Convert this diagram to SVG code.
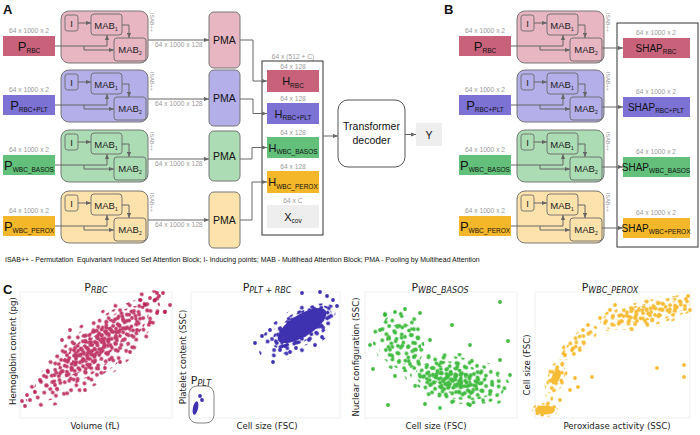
<svg xmlns="http://www.w3.org/2000/svg" xmlns:xlink="http://www.w3.org/1999/xlink" width="700" height="435" viewBox="0 0 700 435">
<style>
text{font-family:"Liberation Sans",Arial,sans-serif;fill:#111}
.box{stroke:#777;stroke-width:1}
.in{fill:none;stroke:#6b6b6b;stroke-width:0.9}
.c{fill:none;stroke:#666;stroke-width:1;marker-end:url(#ah)}
.g{font-size:6.7px;fill:#9a9a9a}
.gm{text-anchor:middle}
.mab{font-size:9.5px;text-anchor:middle;fill:#222}
.s{font-size:5px}
.pl{font-size:13px;text-anchor:middle}
.ps{font-size:6.5px}
.lbl{font-size:13px;font-weight:bold}
.pma{font-size:10.5px;text-anchor:middle}
.isab{font-size:5.5px;fill:#9a9a9a}
.hl{font-size:11px;text-anchor:middle}
.shap{font-size:10px;text-anchor:middle}
.ax{font-family:"DejaVu Sans",sans-serif;font-size:8.6px;fill:#222;text-anchor:middle}
.tt{font-family:"DejaVu Sans",sans-serif;font-size:11px;fill:#222;text-anchor:middle}
.ts{font-size:8px;font-style:italic}
.frame{fill:none;stroke:#ececec;stroke-width:0.8}
.pk1{fill:#c8627b}.pk2{fill:#e8b5c3}
.pu1{fill:#7b72d4}.pu2{fill:#b4aee9}
.gr1{fill:#62c07a}.gr2{fill:#abdcb3}
.ye1{fill:#f5b72a}.ye2{fill:#fde3ab}
.gy{fill:#eeeeee}
</style>
<defs>
<marker id="ah" viewBox="0 0 6 6" refX="6" refY="3" markerWidth="5" markerHeight="5" orient="auto"><path d="M0,0.5 L6,3 L0,5.5z" fill="#666"/></marker>
<g id="isabT">
<rect class="in" x="65" y="15" width="13" height="16" rx="2.5"/>
<text class="mab" x="71.5" y="27">I</text>
<rect class="in" x="91" y="14" width="31" height="21" rx="3"/>
<text class="mab" x="106" y="28.5">MAB<tspan class="s" dy="2">1</tspan></text>
<rect class="in" x="114" y="38" width="32" height="23" rx="3"/>
<text class="mab" x="130" y="53">MAB<tspan class="s" dy="2">2</tspan></text>
<text class="isab" transform="translate(149.5,13) rotate(90)">ISAB++</text>
</g>
<pattern id="pa" width="23" height="21" patternUnits="userSpaceOnUse" patternTransform="rotate(11)">
<g fill="#fff"><circle cx="3" cy="3" r="1.9"/><circle cx="10" cy="2.5" r="1.9"/><circle cx="16" cy="6" r="1.9"/><circle cx="20" cy="13" r="1.9"/><circle cx="12" cy="11" r="1.9"/><circle cx="5" cy="13" r="1.9"/><circle cx="17" cy="18.5" r="1.9"/><circle cx="8" cy="18.5" r="1.9"/></g>
</pattern>
<pattern id="pb" width="17" height="19" patternUnits="userSpaceOnUse" patternTransform="rotate(33)">
<g fill="#fff"><circle cx="3" cy="3" r="1.9"/><circle cx="11" cy="4.5" r="1.9"/><circle cx="7" cy="10" r="1.9"/><circle cx="14.5" cy="12" r="1.9"/><circle cx="3" cy="15.5" r="1.9"/><circle cx="10" cy="16.5" r="1.9"/></g>
</pattern>
<pattern id="pc" width="9" height="8" patternUnits="userSpaceOnUse" patternTransform="rotate(-21)">
<g fill="#fff"><circle cx="2.5" cy="2.5" r="1.9"/><circle cx="6.5" cy="5.5" r="1.9"/></g>
</pattern>
<pattern id="pe" width="7" height="7" patternUnits="userSpaceOnUse" patternTransform="rotate(40)">
<g fill="#fff"><circle cx="2" cy="2" r="1.9"/><circle cx="5" cy="5.2" r="1.9"/></g>
</pattern>
<pattern id="pd" width="31" height="29" patternUnits="userSpaceOnUse" patternTransform="rotate(-15)">
<g fill="#fff"><circle cx="4" cy="5" r="1.9"/><circle cx="18" cy="3" r="1.9"/><circle cx="27" cy="14" r="1.9"/><circle cx="12" cy="17" r="1.9"/><circle cx="22" cy="25" r="1.9"/><circle cx="6" cy="25" r="1.9"/></g>
</pattern>
<mask id="m1" maskUnits="userSpaceOnUse" x="0" y="280" width="700" height="155">
<g transform="rotate(-38 97 349)">
<ellipse cx="97" cy="349" rx="88" ry="29" fill="url(#pd)"/>
<ellipse cx="97" cy="349" rx="78" ry="24" fill="url(#pa)"/>
<ellipse cx="98" cy="348" rx="64" ry="19" fill="url(#pb)"/>
<ellipse cx="100" cy="346" rx="50" ry="14" fill="url(#pc)"/>
<ellipse cx="100" cy="346" rx="32" ry="9" fill="url(#pe)"/>
</g>
</mask>
<mask id="m2" maskUnits="userSpaceOnUse" x="0" y="280" width="700" height="155">
<g transform="rotate(-32 300 328)">
<ellipse cx="298" cy="330" rx="46" ry="22" fill="url(#pd)"/>
<ellipse cx="300" cy="329" rx="40" ry="17" fill="url(#pa)"/>
<ellipse cx="302" cy="328" rx="34" ry="14" fill="url(#pc)"/>
<ellipse cx="303" cy="327" rx="28" ry="11" fill="#fff"/>
</g>
<ellipse cx="195.5" cy="408" rx="2.6" ry="7" fill="#fff" transform="rotate(12 195.5 408)"/>
</mask>
<mask id="m3" maskUnits="userSpaceOnUse" x="0" y="280" width="700" height="155">
<g transform="rotate(12 457 380)">
<ellipse cx="457" cy="380" rx="54" ry="27" fill="url(#pd)"/>
<ellipse cx="457" cy="380" rx="48" ry="23" fill="url(#pa)"/>
<ellipse cx="455" cy="381" rx="40" ry="18" fill="url(#pb)"/>
<ellipse cx="453" cy="381" rx="31" ry="13" fill="url(#pc)"/>
<ellipse cx="452" cy="381" rx="20" ry="8" fill="url(#pe)"/>
</g>
<g transform="rotate(-20 400 340)">
<ellipse cx="400" cy="340" rx="27" ry="33" fill="url(#pd)"/>
<ellipse cx="400" cy="342" rx="23" ry="28" fill="url(#pa)"/>
<ellipse cx="402" cy="345" rx="17" ry="21" fill="url(#pb)"/>
</g>
</mask>
<mask id="m4" maskUnits="userSpaceOnUse" x="0" y="280" width="700" height="155">
<ellipse cx="545" cy="410" rx="13" ry="7" fill="url(#pc)"/>
<ellipse cx="545" cy="410" rx="10" ry="4.5" fill="#fff"/>
<ellipse cx="549" cy="398" rx="4" ry="6" fill="url(#pa)"/>
<g transform="rotate(25 556 377)">
<ellipse cx="556" cy="377" rx="10" ry="17" fill="url(#pa)"/>
<ellipse cx="556" cy="377" rx="8" ry="14" fill="url(#pc)"/>
<ellipse cx="556" cy="377" rx="4" ry="8" fill="#fff"/>
</g>
<ellipse cx="578" cy="343" rx="25" ry="9" fill="url(#pa)" transform="rotate(-40 578 343)"/>
<ellipse cx="578" cy="343" rx="20" ry="6" fill="url(#pb)" transform="rotate(-40 578 343)"/>
<g transform="rotate(-12 645 314)">
<ellipse cx="645" cy="314" rx="50" ry="15" fill="url(#pd)"/>
<ellipse cx="645" cy="314" rx="46" ry="13" fill="url(#pa)"/>
<ellipse cx="645" cy="314" rx="40" ry="10" fill="url(#pb)"/>
<ellipse cx="648" cy="313" rx="32" ry="7.5" fill="url(#pc)"/>
</g>
<ellipse cx="680" cy="303" rx="10" ry="8" fill="url(#pb)"/>
</mask>
</defs>

<rect width="700" height="435" fill="#fff"/>

<!-- panel labels -->
<text class="lbl" x="3" y="14">A</text>
<text class="lbl" x="444" y="14">B</text>
<text class="lbl" x="3" y="294">C</text>

<!-- ===== Panel A nodes ===== -->
<g id="a-p-rbc"><text class="g gm" x="29" y="33">64 x 1000 x 2</text><rect class="pk1" x="3" y="36" width="52" height="20"/><text class="pl" x="29" y="50.6">P<tspan class="ps" dy="2.5">RBC</tspan></text></g>
<g id="a-p-rbcplt"><text class="g gm" x="29" y="92">64 x 1000 x 2</text><rect class="pu1" x="3" y="95" width="52" height="20"/><text class="pl" x="29" y="109.6">P<tspan class="ps" dy="2.5">RBC+PLT</tspan></text></g>
<g id="a-p-basos"><text class="g gm" x="29" y="152">64 x 1000 x 2</text><rect class="gr1" x="3" y="155" width="52" height="20"/><text class="pl" x="29" y="169.6">P<tspan class="ps" dy="2.5">WBC_BASOS</tspan></text></g>
<g id="a-p-perox"><text class="g gm" x="29" y="213">64 x 1000 x 2</text><rect class="ye1" x="3" y="216" width="52" height="20"/><text class="pl" x="29" y="230.6">P<tspan class="ps" dy="2.5">WBC_PEROX</tspan></text></g>

<g id="a-isab-rbc"><rect class="box pk2" x="61" y="11" width="87" height="52" rx="8"/><use href="#isabT"/></g>
<g id="a-isab-rbcplt"><rect class="box pu2" x="61" y="70" width="87" height="52" rx="8"/><use href="#isabT" transform="translate(0,59)"/></g>
<g id="a-isab-basos"><rect class="box gr2" x="61" y="130" width="87" height="52" rx="8"/><use href="#isabT" transform="translate(0,119)"/></g>
<g id="a-isab-perox"><rect class="box ye2" x="61" y="191" width="87" height="52" rx="8"/><use href="#isabT" transform="translate(0,180)"/></g>

<g id="a-pma-rbc"><rect class="box pk2" x="209" y="12" width="31" height="56" rx="5"/><text class="pma" x="224.5" y="44">PMA</text></g>
<g id="a-pma-rbcplt"><rect class="box pu2" x="209" y="70" width="31" height="56" rx="5"/><text class="pma" x="224.5" y="102">PMA</text></g>
<g id="a-pma-basos"><rect class="box gr2" x="209" y="131" width="31" height="50" rx="5"/><text class="pma" x="224.5" y="160">PMA</text></g>
<g id="a-pma-perox"><rect class="box ye2" x="209" y="192" width="31" height="56" rx="5"/><text class="pma" x="224.5" y="224">PMA</text></g>

<g id="a-concat">
<text class="g gm" x="293" y="59">64 x (512 + C)</text>
<rect x="262" y="61" width="61" height="174" fill="#fff" stroke="#333" stroke-width="1"/>
</g>
<g id="a-h-rbc"><text class="g gm" x="293" y="68.5">64 x 128</text><rect class="pk1" x="267" y="70" width="52" height="22"/><text class="hl" x="293" y="85">H<tspan class="ps" dy="2.5">RBC</tspan></text></g>
<g id="a-h-rbcplt"><text class="g gm" x="293" y="101">64 x 128</text><rect class="pu1" x="267" y="103" width="52" height="21"/><text class="hl" x="293" y="117.5">H<tspan class="ps" dy="2.5">RBC+PLT</tspan></text></g>
<g id="a-h-basos"><text class="g gm" x="293" y="134.5">64 x 128</text><rect class="gr1" x="267" y="137" width="52" height="21"/><text class="hl" x="293" y="151.5">H<tspan class="ps" dy="2.5">WBC_BASOS</tspan></text></g>
<g id="a-h-perox"><text class="g gm" x="293" y="168.5">64 x 128</text><rect class="ye1" x="267" y="171" width="52" height="22"/><text class="hl" x="293" y="186">H<tspan class="ps" dy="2.5">WBC_PEROX</tspan></text></g>
<g id="a-xcov"><text class="g gm" x="293" y="203">64 x C</text><rect class="gy" x="267" y="205" width="52" height="23"/><text class="hl" x="293" y="220.5">X<tspan class="ps" dy="2.5">cov</tspan></text></g>

<g id="a-transformer"><rect x="338" y="100" width="67" height="67" rx="10" fill="#fff" stroke="#555" stroke-width="1"/><text class="pma" x="371.5" y="130" font-size="11">Transformer</text><text class="pma" x="371.5" y="144" font-size="11">decoder</text></g>
<g id="a-y"><rect class="gy" x="416" y="123" width="26" height="23"/><text class="pma" x="429" y="138.5" font-size="11">Y</text></g>

<!-- ===== Panel B nodes ===== -->
<g id="b-p-rbc"><text class="g gm" x="485" y="33">64 x 1000 x 2</text><rect class="pk1" x="459" y="36" width="52" height="20"/><text class="pl" x="485" y="50.6">P<tspan class="ps" dy="2.5">RBC</tspan></text></g>
<g id="b-p-rbcplt"><text class="g gm" x="485" y="92">64 x 1000 x 2</text><rect class="pu1" x="459" y="95" width="52" height="20"/><text class="pl" x="485" y="109.6">P<tspan class="ps" dy="2.5">RBC+PLT</tspan></text></g>
<g id="b-p-basos"><text class="g gm" x="485" y="152">64 x 1000 x 2</text><rect class="gr1" x="459" y="155" width="52" height="20"/><text class="pl" x="485" y="169.6">P<tspan class="ps" dy="2.5">WBC_BASOS</tspan></text></g>
<g id="b-p-perox"><text class="g gm" x="485" y="213">64 x 1000 x 2</text><rect class="ye1" x="459" y="216" width="52" height="20"/><text class="pl" x="485" y="230.6">P<tspan class="ps" dy="2.5">WBC_PEROX</tspan></text></g>

<g id="b-isab-rbc"><rect class="box pk2" x="517" y="11" width="87" height="52" rx="8"/><use href="#isabT" transform="translate(456,0)"/></g>
<g id="b-isab-rbcplt"><rect class="box pu2" x="517" y="70" width="87" height="52" rx="8"/><use href="#isabT" transform="translate(456,59)"/></g>
<g id="b-isab-basos"><rect class="box gr2" x="517" y="130" width="87" height="52" rx="8"/><use href="#isabT" transform="translate(456,119)"/></g>
<g id="b-isab-perox"><rect class="box ye2" x="517" y="191" width="87" height="52" rx="8"/><use href="#isabT" transform="translate(456,180)"/></g>

<g id="b-container"><rect x="617" y="23" width="81" height="224" fill="none" stroke="#333" stroke-width="1"/></g>
<g id="b-shap-rbc"><text class="g gm" x="656" y="35">64 x 1000 x 2</text><rect class="pk1" x="623" y="38" width="67" height="20"/><text class="shap" x="656" y="51.5">SHAP<tspan class="ps" dy="2.5">RBC</tspan></text></g>
<g id="b-shap-rbcplt"><text class="g gm" x="656" y="94">64 x 1000 x 2</text><rect class="pu1" x="623" y="97" width="67" height="20"/><text class="shap" x="656" y="110.5">SHAP<tspan class="ps" dy="2.5">RBC+PLT</tspan></text></g>
<g id="b-shap-basos"><text class="g gm" x="656" y="154">64 x 1000 x 2</text><rect class="gr1" x="623" y="157" width="67" height="20"/><text class="shap" x="656" y="170.5">SHAP<tspan class="ps" dy="2.5">WBC_BASOS</tspan></text></g>
<g id="b-shap-perox"><text class="g gm" x="656" y="215">64 x 1000 x 2</text><rect class="ye1" x="623" y="218" width="67" height="20"/><text class="shap" x="656" y="231.5">SHAP<tspan class="ps" dy="2.5">WBC+PEROX</tspan></text></g>

<!-- ===== Connectors ===== -->
<g id="connectors">
<path class="c" d="M55,46H107V35"/><path class="c" d="M84,46V50H114"/><path class="c" d="M78,23H91"/><path class="c" d="M122,25H129V38"/><path class="c" d="M148,40H209"/>
<path class="c" d="M55,105H107V94"/><path class="c" d="M84,105V109H114"/><path class="c" d="M78,82H91"/><path class="c" d="M122,84H129V97"/><path class="c" d="M148,99H209"/>
<path class="c" d="M55,165H107V154"/><path class="c" d="M84,165V169H114"/><path class="c" d="M78,142H91"/><path class="c" d="M122,144H129V157"/><path class="c" d="M148,159H209"/>
<path class="c" d="M55,226H107V215"/><path class="c" d="M84,226V230H114"/><path class="c" d="M78,203H91"/><path class="c" d="M122,205H129V218"/><path class="c" d="M148,220H209"/>
<path class="c" d="M240,40H253V81H267"/>
<path class="c" d="M240,99H253V113.5H267"/>
<path class="c" d="M240,159H252V147.5H267"/>
<path class="c" d="M240,220H252V182H267"/>
<path class="c" d="M323,136H338"/>
<path class="c" d="M405,134.5H416"/>
<path class="c" d="M511,46H563V35"/><path class="c" d="M540,46V50H570"/><path class="c" d="M534,23H547"/><path class="c" d="M578,25H585V38"/><path class="c" d="M602,48H623"/>
<path class="c" d="M511,105H563V94"/><path class="c" d="M540,105V109H570"/><path class="c" d="M534,82H547"/><path class="c" d="M578,84H585V97"/><path class="c" d="M602,107H623"/>
<path class="c" d="M511,165H563V154"/><path class="c" d="M540,165V169H570"/><path class="c" d="M534,142H547"/><path class="c" d="M578,144H585V157"/><path class="c" d="M602,167H623"/>
<path class="c" d="M511,226H563V215"/><path class="c" d="M540,226V230H570"/><path class="c" d="M534,203H547"/><path class="c" d="M578,205H585V218"/><path class="c" d="M602,228H623"/>
</g>
<g id="edge-labels">
<text class="g" x="155" y="47">64 x 1000 x 128</text>
<text class="g" x="155" y="106">64 x 1000 x 128</text>
<text class="g" x="155" y="166">64 x 1000 x 128</text>
<text class="g" x="155" y="227">64 x 1000 x 128</text>
</g>

<text x="5" y="262" font-size="7" fill="#333" xml:space="preserve">ISAB++ - Permutation  Equivariant Induced Set Attention Block; I- Inducing points; MAB - Multihead Attention Block; PMA - Pooling by Multihead Attention</text>

<!-- ===== Panel C ===== -->
<g id="plot-rbc">
<rect class="frame" x="20" y="292" width="152" height="126"/>
<text class="tt" x="96" y="291">P<tspan class="ts" dy="2">RBC</tspan></text>
<text class="ax" x="95" y="429">Volume (fL)</text>
<text class="ax" transform="translate(16,351) rotate(-90)">Hemoglobin content (pg)</text>
<rect x="0" y="280" width="700" height="155" fill="#b5174f" fill-opacity="0.85" mask="url(#m1)"/>
<g fill="#b5174f" fill-opacity="0.85">
<circle cx="25" cy="406" r="1.9"/><circle cx="30" cy="400" r="1.9"/><circle cx="27" cy="395" r="1.9"/><circle cx="35" cy="392" r="1.9"/><circle cx="22" cy="401" r="1.9"/><circle cx="170" cy="305" r="1.9"/><circle cx="163" cy="293" r="1.9"/><circle cx="159" cy="296" r="1.9"/><circle cx="155" cy="300" r="1.9"/><circle cx="157" cy="293" r="1.9"/><circle cx="150" cy="298" r="1.9"/><circle cx="145" cy="305" r="1.9"/><circle cx="140" cy="300" r="1.9"/><circle cx="165" cy="312" r="1.9"/><circle cx="157" cy="313" r="1.9"/><circle cx="40" cy="380" r="1.9"/><circle cx="48" cy="372" r="1.9"/><circle cx="55" cy="385" r="1.9"/><circle cx="120" cy="362" r="1.9"/><circle cx="130" cy="352" r="1.9"/><circle cx="85" cy="390" r="1.9"/><circle cx="70" cy="330" r="1.9"/><circle cx="62" cy="340" r="1.9"/><circle cx="137" cy="330" r="1.9"/><circle cx="150" cy="322" r="1.9"/><circle cx="105" cy="368" r="1.9"/>
</g>
</g>

<g id="plot-plt-rbc">
<rect class="frame" x="191" y="292" width="149" height="126"/>
<text class="tt" x="267" y="291">P<tspan class="ts" dy="2">PLT + RBC</tspan></text>
<text class="ax" x="267" y="429">Cell size (FSC)</text>
<text class="ax" transform="translate(186,357) rotate(-90)">Platelet content (SSC)</text>
<rect x="0" y="280" width="700" height="155" fill="#2a1ca8" fill-opacity="0.9" mask="url(#m2)"/>
<g fill="#2a1ca8" fill-opacity="0.9">
<circle cx="255" cy="343" r="1.9"/><circle cx="273" cy="362" r="1.9"/><circle cx="262" cy="336" r="1.9"/><circle cx="270" cy="330" r="1.9"/><circle cx="285" cy="346" r="1.9"/><circle cx="302" cy="293" r="1.9"/><circle cx="320" cy="292" r="1.9"/><circle cx="327" cy="296" r="1.9"/><circle cx="333" cy="300" r="1.9"/><circle cx="337" cy="306" r="1.9"/><circle cx="322" cy="337" r="1.9"/><circle cx="315" cy="345" r="1.9"/><circle cx="290" cy="352" r="1.9"/><circle cx="280" cy="350" r="1.9"/><circle cx="296" cy="348" r="1.9"/><circle cx="200" cy="396" r="1.9"/><circle cx="202" cy="400" r="1.9"/>
</g>
<rect x="189" y="386" width="25" height="37" rx="8" fill="none" stroke="#666" stroke-width="0.8"/>
<text class="tt" x="201" y="384">P<tspan class="ts" dy="2" font-size="7">PLT</tspan></text>
</g>

<g id="plot-basos">
<rect class="frame" x="365" y="292" width="152" height="126"/>
<text class="tt" x="440" y="291">P<tspan class="ts" dy="2">WBC_BASOS</tspan></text>
<text class="ax" x="436" y="429">Cell size (FSC)</text>
<text class="ax" transform="translate(359,357) rotate(-90)">Nuclear configuration (SSC)</text>
<rect x="0" y="280" width="700" height="155" fill="#2cb42c" fill-opacity="0.9" mask="url(#m3)"/>
<g fill="#2cb42c" fill-opacity="0.9">
<circle cx="500" cy="302" r="1.9"/><circle cx="388" cy="405" r="1.9"/><circle cx="452" cy="325" r="1.9"/><circle cx="508" cy="341" r="1.9"/><circle cx="373" cy="369" r="1.9"/><circle cx="385" cy="315" r="1.9"/><circle cx="395" cy="312" r="1.9"/><circle cx="405" cy="309" r="1.9"/><circle cx="420" cy="313" r="1.9"/><circle cx="395" cy="376" r="1.9"/><circle cx="500" cy="360" r="1.9"/><circle cx="510" cy="375" r="1.9"/><circle cx="470" cy="405" r="1.9"/><circle cx="440" cy="408" r="1.9"/><circle cx="425" cy="404" r="1.9"/><circle cx="370" cy="345" r="1.9"/><circle cx="380" cy="330" r="1.9"/><circle cx="430" cy="340" r="1.9"/><circle cx="470" cy="345" r="1.9"/>
</g>
</g>

<g id="plot-perox">
<rect class="frame" x="535" y="292" width="155" height="126"/>
<text class="tt" x="610" y="291">P<tspan class="ts" dy="2">WBC_PEROX</tspan></text>
<text class="ax" x="617" y="429">Peroxidase activity (SSC)</text>
<text class="ax" transform="translate(530,365) rotate(-90)">Cell size (FSC)</text>
<rect x="0" y="280" width="700" height="155" fill="#f5b51f" fill-opacity="0.9" mask="url(#m4)"/>
<g fill="#f5b51f" fill-opacity="0.9">
<circle cx="657" cy="368" r="1.9"/><circle cx="684" cy="365" r="1.9"/><circle cx="684" cy="377" r="1.9"/><circle cx="592" cy="377" r="1.9"/><circle cx="570" cy="390" r="1.9"/><circle cx="578" cy="387" r="1.9"/><circle cx="560" cy="400" r="1.9"/><circle cx="575" cy="378" r="1.9"/><circle cx="600" cy="318" r="1.9"/><circle cx="610" cy="310" r="1.9"/><circle cx="615" cy="305" r="1.9"/><circle cx="688" cy="296" r="1.9"/><circle cx="690" cy="310" r="1.9"/><circle cx="583" cy="330" r="1.9"/><circle cx="588" cy="325" r="1.9"/><circle cx="565" cy="355" r="1.9"/><circle cx="572" cy="350" r="1.9"/>
</g>
</g>
</svg>
